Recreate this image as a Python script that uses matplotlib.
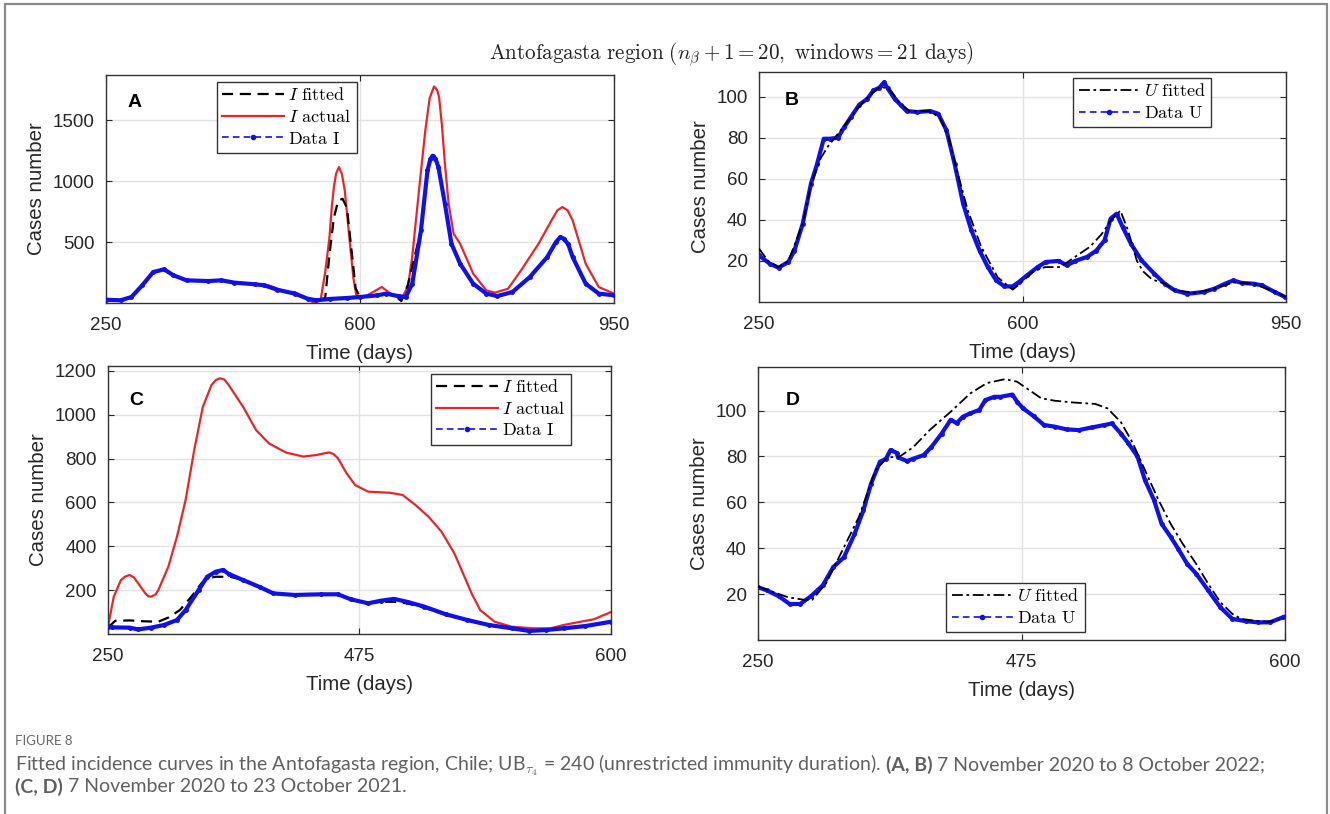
import matplotlib
matplotlib.use("Agg")
import matplotlib.pyplot as plt
from matplotlib.patches import Rectangle
from matplotlib.lines import Line2D

plt.rcParams['mathtext.fontset'] = 'cm'
plt.rcParams['font.family'] = ['Liberation Sans', 'DejaVu Sans']

# ---------------- data ----------------
# Panel A
tA_data = [250, 270, 285, 300, 315, 330, 343, 361, 391, 409, 427, 456, 468, 486, 510, 528, 540, 558, 582, 600,
           624, 636, 654, 663, 672, 684, 693, 697, 700, 704, 708, 717, 726, 738, 756, 774, 789, 810, 834, 858,
           870, 876, 881, 887, 893, 911, 929, 950]
vA_data = [27, 22, 49, 145, 254, 276, 227, 186, 180, 186, 167, 153, 145, 109, 77, 35, 22, 33, 41, 49,
           63, 77, 55, 49, 158, 596, 1087, 1180, 1208, 1185, 1115, 814, 486, 322, 158, 77, 57, 90, 213, 377,
           500, 541, 527, 480, 377, 158, 77, 63]
tA_red = [250, 270, 285, 300, 315, 330, 343, 361, 391, 409, 427, 456, 474, 498, 510, 522, 537, 546, 552, 558,
          561, 564, 567, 571, 575, 579, 583, 588, 591, 595, 606, 618, 630, 642, 657, 666, 672, 678, 684, 690,
          696, 702, 706, 709, 713, 717, 722, 729, 738, 756, 774, 786, 804, 822, 846, 864, 872, 879, 886, 893,
          902, 911, 929, 950]
vA_red = [27, 22, 49, 145, 254, 276, 227, 186, 180, 186, 167, 153, 145, 90, 90, 49, 0, 35, 250, 541,
          780, 951, 1060, 1115, 1060, 923, 680, 377, 200, 63, 49, 90, 131, 77, 35, 131, 380, 732, 1080, 1415,
          1680, 1776, 1750, 1689, 1450, 1142, 820, 568, 486, 240, 104, 85, 117, 268, 486, 678, 760, 787, 760, 678,
          500, 322, 131, 77]
tA_fit = [250, 270, 285, 300, 315, 330, 343, 361, 391, 409, 427, 456, 468, 486, 510, 528, 540, 552, 558, 564,
          570, 576, 582, 588, 594, 600, 624, 636, 648, 657, 666, 684, 693, 697, 700, 704, 708, 717, 726, 738,
          756, 774, 789, 810, 834, 858, 870, 876, 881, 887, 893, 911, 929, 950]
vA_fit = [27, 22, 49, 145, 254, 276, 227, 186, 180, 186, 167, 153, 145, 109, 77, 35, 22, 40, 400, 700,
          840, 855, 780, 450, 120, 50, 63, 77, 60, 16, 150, 596, 1087, 1180, 1208, 1185, 1115, 814, 486, 322,
          158, 77, 57, 90, 213, 377, 500, 541, 527, 480, 377, 158, 77, 63]

# Panel B
tB_data = [250, 264, 276, 289, 297, 308, 319, 327, 336, 344, 355, 363, 372, 383, 394, 402, 410, 416, 421, 430,
           438, 446, 460, 477, 488, 499, 510, 521, 532, 543, 554, 565, 576, 587, 595, 606, 620, 631, 648, 659,
           670, 686, 698, 709, 717, 725, 733, 744, 758, 775, 789, 802, 819, 841, 855, 869, 880, 891, 907, 918,
           935, 949]
vB_data = [22.7, 18.7, 16.7, 19.5, 25, 38, 57.6, 67, 79.5, 79.5, 80, 85, 90, 96, 99, 103, 104.4, 107, 104, 99,
           96, 93, 92.5, 93, 91.7, 83.6, 67, 48, 35, 25, 17, 10.5, 7.6, 7.6, 9.7, 13, 17, 19.5, 20, 17.8,
           20, 22, 25, 30, 40.6, 43, 36.5, 28.4, 20.3, 13.8, 8.9, 5.7, 4, 4.9, 6.5, 8.9, 10.5, 9.3, 8.9, 8.1,
           4.9, 2.4]
tB_fit = [250, 262, 276, 289, 308, 319, 332, 342, 355, 370, 385, 398, 412, 425, 437, 450, 475, 490, 502, 513,
          527, 545, 567, 587, 600, 615, 630, 650, 670, 690, 705, 718, 730, 740, 752, 760, 772, 789, 802, 830,
          855, 880, 907, 935, 949]
vB_fit = [26, 20, 17, 20, 38, 57, 70, 76, 82, 89, 96, 101, 105, 103, 97, 93, 93, 90, 80, 64,
          45, 27, 12, 6, 10, 15, 17, 17, 22, 27, 33, 40, 44.5, 35, 20, 15, 11, 8.9, 5.7, 4.5,
          6.5, 9.5, 8.9, 5, 2.5]

# Panel C
tC_red = [250, 254, 259, 262, 265, 268, 271, 276, 278, 280, 283, 285, 292, 298, 304, 310, 316, 322, 325, 328,
          331, 334, 344, 353, 362, 374, 386, 395, 400, 404, 407, 410, 416, 422, 431, 446, 455, 464, 473, 482,
          491, 497, 503, 509, 519, 531, 546, 558, 567, 579, 588, 600]
vC_red = [33, 170, 246, 262, 269, 258, 231, 185, 172, 170, 180, 200, 307, 444, 611, 839, 1036, 1135, 1158, 1166,
          1160, 1135, 1036, 930, 869, 827, 809, 816, 823, 828, 820, 801, 733, 679, 649, 644, 634, 588, 535, 467,
          368, 277, 185, 109, 56, 33, 26, 26, 41, 56, 67, 100]
tC_data = [250, 253, 265, 271, 280, 289, 298, 304, 313, 319, 325, 330, 334, 344, 356, 365, 380, 398, 410, 419,
           431, 440, 449, 458, 470, 485, 500, 515, 531, 543, 555, 567, 582, 600]
vC_data = [33, 30, 29, 21, 29, 41, 64, 109, 200, 261, 284, 292, 274, 246, 213, 185, 178, 181, 181, 158,
           140, 152, 160, 147, 125, 90, 64, 41, 26, 14, 18, 26, 36, 56]
tC_fit = [250, 255, 265, 275, 285, 292, 300, 308, 315, 320, 325, 335, 344, 356, 365, 380, 398, 410, 419, 431,
          440, 449, 458, 470, 485, 500, 515, 531, 543, 555, 567, 582, 600]
vC_fit = [30, 60, 62, 58, 56, 75, 109, 170, 231, 255, 261, 261, 246, 213, 185, 178, 181, 181, 158, 140,
          147, 147, 140, 120, 88, 62, 40, 26, 16, 20, 28, 38, 52]

# Panel D
tD_data = [250, 256, 264, 271, 278, 285, 293, 300, 307, 314, 320, 325, 331, 335, 338, 342, 343, 349, 353, 360,
           365, 372, 378, 382, 386, 391, 397, 401, 407, 411, 419, 422, 426, 433, 440, 447, 455, 463, 472, 480,
           485, 491, 496, 502, 507, 513, 518, 524, 529, 535, 541, 549, 557, 565, 574, 582, 590, 599]
vD_data = [23, 21.6, 19, 15.7, 15.7, 19, 23.8, 31.8, 36, 46, 56.5, 68, 77.7, 79, 82.8, 81.6, 79.6, 78, 79, 80.6,
           84, 90, 96, 94.5, 97.3, 98.8, 100.3, 104.6, 106, 106, 107, 103.9, 101, 97.6, 93.7, 93, 91.8, 91.5, 92.7, 93.7,
           94.4, 90, 85.7, 80, 69.7, 61, 50.7, 45, 39.8, 33.2, 28.9, 21.6, 14.3, 9.2, 8.2, 7.7, 7.7, 10]
tD_fit = [250, 270, 281, 286, 295, 306, 317, 328, 336, 344, 353, 364, 378, 391, 402, 414, 422, 430, 438, 447,
          460, 474, 482, 491, 499, 507, 516, 524, 532, 541, 549, 557, 565, 571, 582, 590, 599]
vD_fit = [23.3, 18.6, 17.5, 17.5, 24.5, 39, 53.6, 74, 79.6, 79.9, 84, 91.5, 99.5, 107.5, 112, 113.7, 112.6, 109, 105.4, 104.3,
          103.5, 102.9, 101, 95, 85.7, 74, 61, 50.7, 42, 33.2, 24.5, 16.5, 11.4, 9.2, 8.2, 8, 9.5]

xticks_long = [250, 600, 950]
xticklabels_long = ['250', '600', '950']
xticks_short = [250, 425, 600]
xticklabels_short = ['250', '475', '600']
yticks_I_A = [500, 1000, 1500]
yticks_I_C = [200, 400, 600, 800, 1000, 1200]
yticks_U = [20, 40, 60, 80, 100]

title_text = r"$\mathrm{Antofagasta\ region\ (}n_\beta+1=20,\ \mathrm{windows}=21\ \mathrm{days)}$"
lbl_Ifit = r"$I\ \mathrm{fitted}$"
lbl_Iact = r"$I\ \mathrm{actual}$"
lbl_dataI = r"$\mathrm{Data\ I}$"
lbl_Ufit = r"$U\ \mathrm{fitted}$"
lbl_dataU = r"$\mathrm{Data\ U}$"

# ---------------- figure ----------------
W, H = 1330, 814
fig = plt.figure(figsize=(W / 100, H / 100), dpi=100)
fig.patch.set_facecolor('white')

fig.patches.append(Rectangle((4.5 / W, -0.01), (1327 - 4.5) / W, (H - 3.5) / H + 0.01,
                             transform=fig.transFigure, fill=False, edgecolor='#8a8a8a', linewidth=1.6))


def px_axes(l, t, r, b):
    return fig.add_axes([l / W, (H - b) / H, (r - l) / W, (b - t) / H])


axA = px_axes(106, 75, 614, 303)
axB = px_axes(759, 72, 1286, 302)
axC = px_axes(108, 366, 611, 634)
axD = px_axes(758, 367, 1285, 640)

blue = '#1010e8'
red = '#e8262a'
data_kw = dict(color=blue, linestyle='-', linewidth=3.0, marker='.', markersize=5, zorder=3)
red_kw = dict(color=red, linewidth=1.6, zorder=2)
fitI_kw = dict(color='black', linestyle=(0, (5, 3)), linewidth=1.6, zorder=2.5)
fitU_kw = dict(color='black', linestyle=(0, (6, 2, 1.5, 2)), linewidth=1.3, zorder=4)
data_handle = Line2D([], [], color=blue, linestyle=(0, (4, 2.5)), linewidth=1.2, marker='.', markersize=6)


def style(ax, xt, xtl, yt, ylim, xlim):
    ax.set_xlim(*xlim)
    ax.set_ylim(*ylim)
    ax.set_xticks(xt)
    ax.set_xticklabels(xtl)
    ax.set_yticks(yt)
    ax.tick_params(direction='in', length=4, width=0.8, top=True, right=True,
                   labelsize=13.5, colors='#262626', pad=8)
    ax.tick_params(axis='x', pad=10)
    ax.grid(True, color='#e2e2e2', linewidth=1.0)
    ax.set_axisbelow(True)
    for s in ax.spines.values():
        s.set_color('#333333')
        s.set_linewidth(1.0)
    ax.set_xlabel('Time (days)', fontsize=14.7, color='#262626', labelpad=7)
    ax.set_ylabel('Cases number', fontsize=14.7, color='#262626', labelpad=5)


def legend(ax, handles, labels, anchor):
    lg = ax.legend(handles, labels, loc='upper left', bbox_to_anchor=anchor, fontsize=13,
                   frameon=True, fancybox=False, framealpha=1, edgecolor='#333333',
                   handlelength=3.4, handletextpad=0.25, labelspacing=0.25,
                   borderpad=0.3, borderaxespad=0, numpoints=1)
    lg.get_frame().set_linewidth(1.0)
    return lg


# Panel A
hA1, = axA.plot(tA_fit, vA_fit, **fitI_kw)
hA2, = axA.plot(tA_red, vA_red, **red_kw)
axA.plot(tA_data, vA_data, **data_kw)
style(axA, xticks_long, xticklabels_long, yticks_I_A, (0, 1870), (250, 950))
legend(axA, [hA1, hA2, data_handle], [lbl_Ifit, lbl_Iact, lbl_dataI], (0.2185, 0.969))
axA.text(0.057, 0.88, 'A', transform=axA.transAxes, fontsize=14, fontweight='bold', va='center', ha='center')

# Panel B
axB.plot(tB_data, vB_data, **data_kw)
hB1, = axB.plot(tB_fit, vB_fit, **fitU_kw)
style(axB, xticks_long, xticklabels_long, yticks_U, (0, 112), (250, 950))
legend(axB, [hB1, data_handle], [lbl_Ufit, lbl_dataU], (0.596, 0.974))
axB.text(0.063, 0.874, 'B', transform=axB.transAxes, fontsize=14, fontweight='bold', va='center', ha='center')

# Panel C
hC1, = axC.plot(tC_fit, vC_fit, **fitI_kw)
hC2, = axC.plot(tC_red, vC_red, **red_kw)
axC.plot(tC_data, vC_data, **data_kw)
style(axC, xticks_short, xticklabels_short, yticks_I_C, (0, 1222), (250, 600))
legend(axC, [hC1, hC2, data_handle], [lbl_Ifit, lbl_Iact, lbl_dataI], (0.642, 0.970))
axC.text(0.056, 0.873, 'C', transform=axC.transAxes, fontsize=14, fontweight='bold', va='center', ha='center')

# Panel D
axD.plot(tD_data, vD_data, **data_kw)
hD1, = axD.plot(tD_fit, vD_fit, **fitU_kw)
style(axD, xticks_short, xticklabels_short, yticks_U, (0, 119), (250, 600))
legend(axD, [hD1, data_handle], [lbl_Ufit, lbl_dataU], (0.357, 0.209))
axD.text(0.066, 0.879, 'D', transform=axD.transAxes, fontsize=14, fontweight='bold', va='center', ha='center')

# title
fig.text(731 / W, 1 - 55 / H, title_text, fontsize=15.2, ha='center', va='center', color='#222222')

# caption
cap_font = ['Lato', 'DejaVu Sans']
cap_col = '#606060'
fig.text(15 / W, 1 - 741 / H, 'FIGURE 8', fontsize=9.5, family=cap_font, color='#666666', va='center')

renderer = fig.canvas.get_renderer()


def run_line(pieces, x0, y, size=14):
    x = x0
    for txt, bold in pieces:
        gap = 0
        if txt.startswith(' '):
            gap = size * 0.35
            txt = txt.lstrip(' ')
        x += gap
        t = fig.text(x / W, 1 - y / H, txt, fontsize=size, family=cap_font, color=cap_col,
                     fontweight='bold' if bold else 'normal', va='center')
        bb = t.get_window_extent(renderer)
        x += bb.width


run_line([('Fitted incidence curves in the Antofagasta region, Chile; UB$_{\\tau_4}$ = 240 (unrestricted immunity duration).', False),
          (' (A, B)', True), (' 7 November 2020 to 8 October 2022;', False)], 15, 765)
run_line([('(C, D)', True), (' 7 November 2020 to 23 October 2021.', False)], 15, 787)

fig.savefig('out.png', dpi=100, facecolor='white')
